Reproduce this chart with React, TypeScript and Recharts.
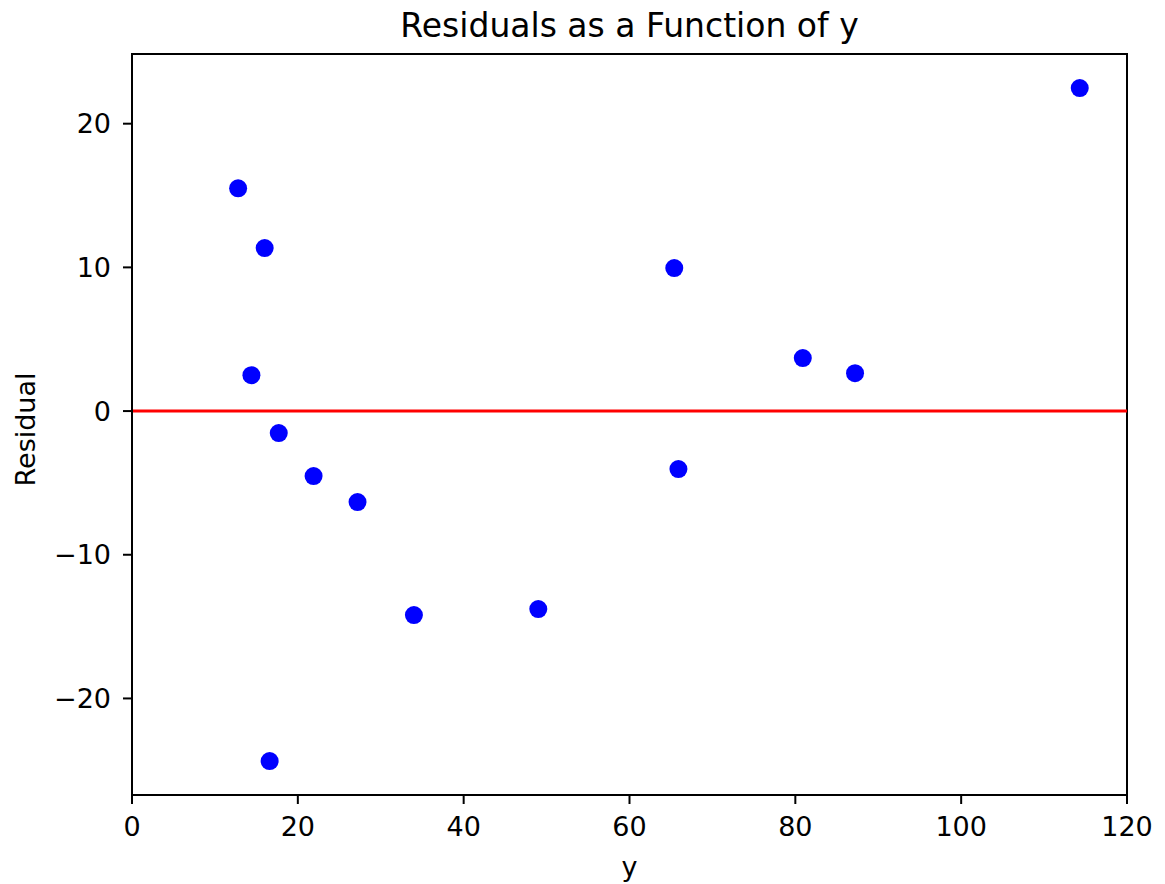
import React from 'react';
import { ScatterChart, Scatter, XAxis, YAxis, ReferenceLine, ReferenceArea, Label } from 'recharts';

const yValues = [12.8, 16.0, 14.4, 17.7, 16.6, 21.9, 27.2, 34.0, 49.0, 65.4, 65.9, 80.9, 87.2, 114.3];
const residuals = [15.5, 11.34, 2.5, -1.53, -24.36, -4.52, -6.33, -14.2, -13.78, 9.95, -4.04, 3.69, 2.64, 22.48];
const xTicks = [0, 20, 40, 60, 80, 100, 120];
const yTicks = [-20, -10, 0, 10, 20];
const xDomain = [0, 120];
const yDomain = [-26.72, 24.85];

const data = yValues.map((x, i) => ({ x, y: residuals[i] }));

const FONT = 'DejaVu Sans';
const fmt = (v: number) => String(v).replace('-', '\u2212');

const Dot = (props: any) => <circle cx={props.cx} cy={props.cy} r={9} fill="#0000ff" />;

export default function App() {
  return (
    <div style={{ position: 'absolute', left: 0, top: 0, width: 1165, height: 884, background: '#fff' }}>
      <div
        style={{
          position: 'absolute',
          left: 629.5,
          top: 9,
          transform: 'translateX(-50%)',
          whiteSpace: 'nowrap',
          fontFamily: FONT,
          fontSize: 33,
          lineHeight: '33px',
          color: '#000',
        }}
      >
        Residuals as a Function of y
      </div>
      <ScatterChart width={1165} height={884} margin={{ top: 54, right: 38, bottom: 0, left: 0 }}>
        <XAxis
          type="number"
          dataKey="x"
          domain={xDomain}
          ticks={xTicks}
          allowDataOverflow
          height={89}
          tickSize={9}
          tickMargin={13}
          tick={{ fill: '#000', fontSize: 27, fontFamily: FONT }}
          tickLine={{ stroke: '#000', strokeWidth: 2 }}
          axisLine={{ stroke: '#000', strokeWidth: 2 }}
          tickFormatter={fmt}
        >
          <Label value="y" position="insideBottom" offset={8} style={{ fill: '#000', fontSize: 27, fontFamily: FONT }} />
        </XAxis>
        <YAxis
          type="number"
          dataKey="y"
          domain={yDomain}
          ticks={yTicks}
          allowDataOverflow
          width={132}
          tickSize={9}
          tickMargin={12}
          tick={{ fill: '#000', fontSize: 27, fontFamily: FONT }}
          tickLine={{ stroke: '#000', strokeWidth: 2 }}
          axisLine={{ stroke: '#000', strokeWidth: 2 }}
          tickFormatter={fmt}
        >
          <Label
            content={(p: any) => {
              const vb = p.viewBox || { x: 0, y: 54, width: 132, height: 741 };
              const cx = vb.x + 25;
              const cy = vb.y + vb.height / 2 + 5;
              return (
                <text
                  x={cx}
                  y={cy}
                  transform={`rotate(-90, ${cx}, ${cy})`}
                  textAnchor="middle"
                  dominantBaseline="central"
                  style={{ fill: '#000', fontSize: 27, fontFamily: FONT }}
                >
                  Residual
                </text>
              );
            }}
          />
        </YAxis>
        <ReferenceArea
          x1={xDomain[0]}
          x2={xDomain[1]}
          y1={yDomain[0]}
          y2={yDomain[1]}
          stroke="#000"
          strokeWidth={2}
          fill="none"
          fillOpacity={0}
          ifOverflow="visible"
        />
        <ReferenceLine y={0} stroke="#ff0000" strokeWidth={3} ifOverflow="visible" />
        <Scatter data={data} shape={Dot} fill="#0000ff" isAnimationActive={false} />
      </ScatterChart>
    </div>
  );
}
